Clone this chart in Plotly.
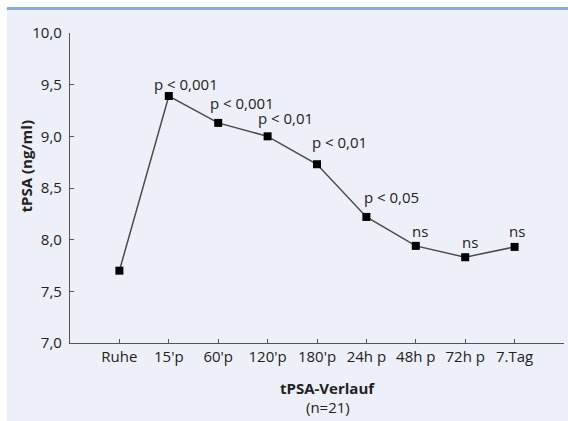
import plotly.graph_objects as go

categories = ["Ruhe", "15'p", "60'p", "120'p", "180'p", "24h p", "48h p", "72h p", "7.Tag"]
tpsa = [7.70, 9.39, 9.13, 9.00, 8.73, 8.22, 7.94, 7.83, 7.93]
sig_labels = ["", "p < 0,001", "p < 0,001", "p < 0,01", "p < 0,01", "p < 0,05", "ns", "ns", "ns"]
y_ticks = [7.0, 7.5, 8.0, 8.5, 9.0, 9.5, 10.0]

# label placement (pixels), style only
label_dx = [0, 17, 24, 18, 22, 25, 4, 5, 2]
label_dy = [0, 0, 8, 6, 10, 8, 3, 3, 4]

FONT = "Open Sans"
BG = "#EDF0F9"
TXT = "#222222"

xi = list(range(len(categories)))

fig = go.Figure()
fig.add_trace(go.Scatter(
    x=xi, y=tpsa, mode="lines+markers",
    line=dict(color="#4a4a4a", width=1.5),
    marker=dict(symbol="square", size=8, color="black"),
    showlegend=False, hoverinfo="skip",
))

for i, (v, lab) in enumerate(zip(tpsa, sig_labels)):
    if not lab:
        continue
    fig.add_annotation(x=i, y=v, text=lab, showarrow=False, xanchor="center",
                       yanchor="bottom", xshift=label_dx[i], yshift=label_dy[i],
                       font=dict(family=FONT, size=15, color=TXT))

# axis titles
fig.add_annotation(xref="paper", yref="paper", x=0.522, y=-0.145, text="<b>tPSA-Verlauf</b>",
                   showarrow=False, xanchor="center", yanchor="middle",
                   font=dict(family=FONT, size=15, color=TXT))
fig.add_annotation(xref="paper", yref="paper", x=0.522, y=-0.206, text="(n=21)",
                   showarrow=False, xanchor="center", yanchor="middle",
                   font=dict(family=FONT, size=15, color=TXT))
fig.add_annotation(xref="paper", yref="paper", x=-0.09, y=0.568, text="<b>tPSA (ng/ml)</b>",
                   showarrow=False, textangle=-90, xanchor="center", yanchor="middle",
                   font=dict(family=FONT, size=15, color=TXT))

# page frame: white strips and blue top rule
fig.add_shape(type="rect", xref="paper", yref="paper", x0=-0.2, x1=-0.1275, y0=-0.4, y1=1.2,
              fillcolor="white", line_width=0, layer="below")
fig.add_shape(type="rect", xref="paper", yref="paper", x0=-0.2, x1=1.1, y0=1.0806, y1=1.2,
              fillcolor="white", line_width=0, layer="below")
fig.add_shape(type="line", xref="paper", yref="paper", x0=-0.1275, x1=1.02, y0=1.0790, y1=1.0790,
              line=dict(color="#86ACD9", width=3), layer="above")

fig.update_xaxes(
    range=[-1, len(categories)], tickmode="array",
    tickvals=list(range(-1, len(categories) + 1)),
    ticktext=[""] + categories + [""],
    ticks="inside", ticklen=4, tickcolor="#555", tickwidth=1,
    showline=True, linecolor="#555", linewidth=1.2,
    showgrid=False, zeroline=False,
    tickfont=dict(family=FONT, size=15, color=TXT),
)
fig.update_yaxes(
    range=[7.0, 10.0], tickmode="array", tickvals=y_ticks,
    tickformat=".1f",
    ticks="inside", ticklen=4, tickcolor="#555", tickwidth=1,
    ticklabelstandoff=4,
    showline=True, linecolor="#555", linewidth=1.2,
    showgrid=False, zeroline=False,
    tickfont=dict(family=FONT, size=15, color=TXT),
)

fig.update_layout(
    width=568, height=421,
    margin=dict(l=70, r=4, t=33, b=78),
    paper_bgcolor=BG, plot_bgcolor=BG,
    separators=",.",
    font=dict(family=FONT, color=TXT),
)

fig.write_html("out.html")
